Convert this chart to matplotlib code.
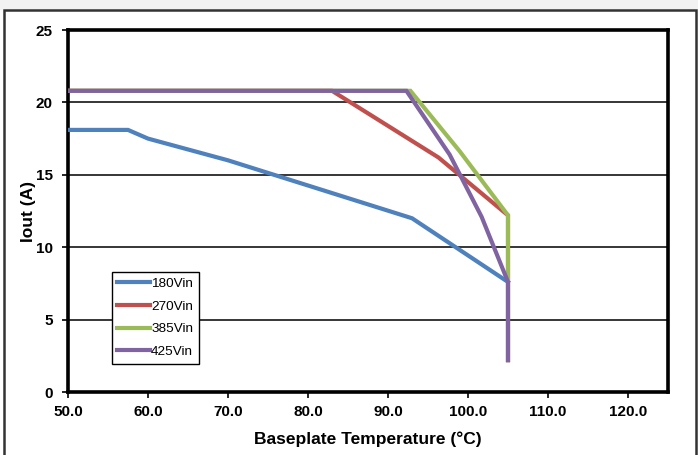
import matplotlib
matplotlib.use("Agg")
import matplotlib.pyplot as plt
from matplotlib.patches import Rectangle

plt.rcParams['font.family'] = ['Liberation Sans', 'DejaVu Sans']

# derating curves
t_180 = [50, 57.5, 60, 70, 93, 105]
i_180 = [18.1, 18.1, 17.5, 16.0, 12.0, 7.6]

t_270 = [50, 83, 96.3, 105, 105]
i_270 = [20.8, 20.8, 16.2, 12.2, 2.2]

t_385 = [50, 92.8, 99, 105, 105, 105]
i_385 = [20.8, 20.8, 16.6, 12.2, 7.6, 2.2]

t_425 = [50, 92.3, 97.7, 101.7, 105, 105]
i_425 = [20.8, 20.8, 16.4, 12.1, 7.6, 2.2]

labels = ['180Vin', '270Vin', '385Vin', '425Vin']
colors = ['#4F81BD', '#C0504D', '#9BBB59', '#8064A2']
x_ticks = [50, 60, 70, 80, 90, 100, 110, 120]
y_ticks = [0, 5, 10, 15, 20, 25]

fig = plt.figure(figsize=(6.98, 4.55), dpi=100)

# light top strip and the outer frame
fig.patches.append(Rectangle((0, 1 - 10 / 455), 1, 10 / 455, transform=fig.transFigure,
                             facecolor='#f2f2f2', edgecolor='none', zorder=0))
fig.patches.append(Rectangle((4 / 698, -0.05), 692 / 698, 1.05 - 10.5 / 455,
                             transform=fig.transFigure, facecolor='none',
                             edgecolor='#333333', linewidth=1.8, zorder=1))

ax = fig.add_axes([68 / 698, 63 / 455, 600 / 698, 362 / 455])

for t, i, lab, c in zip([t_180, t_270, t_385, t_425], [i_180, i_270, i_385, i_425], labels, colors):
    ax.plot(t, i, color=c, lw=3, label=lab, solid_joinstyle='miter', zorder=3)

ax.set_xlim(50, 125)
ax.set_ylim(0, 25)
ax.set_xticks(x_ticks)
ax.set_xticklabels(['%.1f' % v for v in x_ticks])
ax.set_yticks(y_ticks)
ax.yaxis.grid(True, color='black', lw=1.1)
ax.set_axisbelow(True)

for s in ax.spines.values():
    s.set_linewidth(2.6)
    s.set_color('black')

ax.tick_params(axis='both', direction='out', length=4, width=1.2, labelsize=11)
ax.tick_params(axis='x', pad=5.5)
ax.tick_params(axis='y', pad=7)
for lbl in ax.get_xticklabels() + ax.get_yticklabels():
    lbl.set_fontweight('bold')

ax.set_xlabel('Baseplate Temperature (°C)', fontsize=12.5, fontweight='bold', labelpad=9)
ax.set_ylabel('Iout (A)', fontsize=12.5, fontweight='bold', labelpad=0)

leg = ax.legend(loc='lower left', bbox_to_anchor=(0.073, 0.078), fontsize=9.7,
                fancybox=False, framealpha=1, edgecolor='black', handlelength=2.45,
                handletextpad=0.05, labelspacing=0.76, borderpad=0.42, borderaxespad=0)
leg.get_frame().set_linewidth(1.0)

fig.savefig('out.png', dpi=100)
